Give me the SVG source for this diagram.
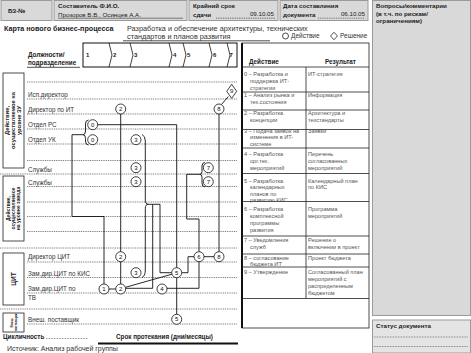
<svg xmlns="http://www.w3.org/2000/svg" width="471" height="353" viewBox="0 0 471 353">
<defs>
<style>
text{font-family:"Liberation Sans",Arial,sans-serif;fill:#222}
.hb{fill:#d9d9d9;stroke:#9a9a9a;stroke-width:1}
.b{font-weight:bold}
.h{font-size:6.2px}
.lbl{font-size:6.3px;fill:#333}
.lane{stroke:#444;stroke-width:0.7;stroke-dasharray:1 0.8;fill:none}
.sep{stroke:#444;stroke-width:0.7;stroke-dasharray:1 0.8;fill:none}
.node circle{fill:#fff;stroke:#111;stroke-width:0.8}
.node polygon{fill:#fff;stroke:#111;stroke-width:0.8}
.n{font-size:6px;text-anchor:middle;fill:#111}
.cn{fill:none;stroke:#111;stroke-width:0.9}
.tt{font-size:5.6px;fill:#555}
.tb{fill:none;stroke:#222;stroke-width:0.8}
.vb{fill:#fff;stroke:#222;stroke-width:0.8}
.vt{font-weight:bold;text-anchor:middle;fill:#222}
</style>
</defs>
<rect width="471" height="353" fill="#fff"/>

<!-- header -->
<g id="header">
<rect class="hb" x="1" y="0.5" width="51" height="20"/>
<text class="h b" x="8" y="13">БЗ-№</text>
<rect class="hb" x="54" y="0.5" width="133" height="20"/>
<text class="h b" x="58" y="7.5">Составитель Ф.И.О.</text>
<text class="h" x="58" y="16.5">Прозоров В.В., Осинцев А.А.</text>
<line x1="58" y1="18.2" x2="183" y2="18.2" stroke="#333" stroke-width="0.6"/>
<rect class="hb" x="189" y="0.5" width="89" height="20"/>
<text class="h b" x="193" y="7.5">Крайний срок</text>
<text class="h b" x="193" y="16.5">сдачи</text>
<line x1="216" y1="18.2" x2="275" y2="18.2" stroke="#333" stroke-width="0.6" stroke-dasharray="1.5 0.8"/>
<text class="h" x="274" y="16" text-anchor="end">09.10.05</text>
<rect class="hb" x="280" y="0.5" width="88" height="20"/>
<text class="h b" x="283" y="7.5">Дата составления</text>
<text class="h b" x="283" y="16.5">документа</text>
<line x1="318" y1="18.2" x2="365" y2="18.2" stroke="#333" stroke-width="0.6" stroke-dasharray="1 0.8"/>
<text class="h" x="365" y="16" text-anchor="end">06.10.05</text>
</g>

<g id="comments">
<rect class="hb" x="372.5" y="0.5" width="98" height="315"/>
<text class="h b" x="376" y="7.5">Вопросы/комментарии</text>
<text class="h b" x="376" y="15.5">(в т.ч. по рискам/</text>
<text class="h b" x="376" y="23">ограничениям)</text>
</g>
<g id="status">
<rect x="372.5" y="320" width="98" height="33" fill="#e4e4e4" stroke="#9a9a9a" stroke-width="1"/>
<text class="h b" x="376" y="328">Статус документа</text>
<line x1="374" y1="337" x2="468" y2="337" stroke="#333" stroke-width="0.6" stroke-dasharray="0.8 0.8"/>
<line x1="374" y1="346.5" x2="468" y2="346.5" stroke="#333" stroke-width="0.6" stroke-dasharray="0.8 0.8"/>
</g>

<!-- title -->
<g id="title">
<text x="4" y="31" class="b" style="font-size:7.2px">Карта нового бизнес-процесса</text>
<text x="127" y="31" style="font-size:7.3px;fill:#333">Разработка и обеспечение архитектуры, технических</text>
<text x="127" y="38.5" style="font-size:7.3px;fill:#333">стандартов и планов развития</text>
<line x1="123" y1="40.8" x2="270" y2="40.8" stroke="#222" stroke-width="0.8"/>
<circle cx="285.5" cy="36" r="3" fill="#fff" stroke="#222" stroke-width="0.8"/>
<text x="291" y="38.3" style="font-size:6.5px;fill:#333">Действие</text>
<polygon points="334,32.3 337.5,36 334,39.7 330.5,36" fill="#fff" stroke="#222" stroke-width="0.8"/>
<text x="340" y="38.3" style="font-size:6.5px;fill:#333">Решение</text>
</g>

<!-- column header and chevrons -->
<g id="phases">
<text x="28" y="57" class="b" style="font-size:6.3px">Должности/</text>
<text x="28" y="64.5" class="b" style="font-size:6.3px">подразделение</text>
<line x1="27" y1="67.3" x2="80" y2="67.3" stroke="#222" stroke-width="0.8"/>
<rect x="83" y="43" width="154" height="24" fill="#fff" stroke="#111" stroke-width="1"/>
<path d="M109 43 L112 55 L109 67 M130 43 L133 55 L130 67 M169 43 L172 55 L169 67 M183 43 L186 55 L183 67 M209 43 L212 55 L209 67 M227 43 L230 55 L227 67" fill="none" stroke="#111" stroke-width="0.8"/>
<g style="font-size:6px" font-weight="bold">
<text x="86" y="57">1</text><text x="113" y="57">2</text><text x="134" y="57">3</text><text x="173" y="57">4</text><text x="187" y="57">5</text><text x="213" y="57">6</text><text x="229.5" y="57">7</text>
</g>
</g>

<!-- lane lines -->
<g id="lanes">
<path class="lane" d="M27 82H237M27 99H237M27 114H237M27 129H237M27 144H237M27 160.5H237M27 186.5H237M27 202H237M27 216.5H237M27 231.5H237M27 262H237M27 277.5H237M27 293H237M27 324H237"/>
<path class="sep" d="M0 174H237M0 248H237M0 309H237"/>
<text class="lbl" x="28" y="97">Исп.директор</text>
<text class="lbl" x="28" y="112">Директор по ИТ</text>
<text class="lbl" x="28" y="127">Отдел РС</text>
<text class="lbl" x="28" y="142">Отдел УК</text>
<text class="lbl" x="28" y="172">Службы</text>
<text class="lbl" x="28" y="184.5">Службы</text>
<text class="lbl" x="28" y="258.5">Директор ЦИТ</text>
<text class="lbl" x="28" y="275.5">Зам.дир.ЦИТ по КИС</text>
<text class="lbl" x="28" y="291.3">Зам.дир.ЦИТ по</text>
<text class="lbl" x="28" y="299.8">ТВ</text>
<text class="lbl" x="28" y="322.3">Внеш. поставщик</text>
</g>

<!-- left group boxes -->
<g id="grp-zu">
<rect class="vb" x="3" y="73" width="21" height="95"/>
<g transform="translate(13.5,120.5) rotate(-90)" style="font-size:5.8px">
<text class="vt" y="-4.3">Действие,</text>
<text class="vt" y="1.7">осуществляемое на</text>
<text class="vt" y="7.7">уровне ЗУ</text>
</g>
</g>
<g id="grp-zavod">
<rect class="vb" x="3" y="176" width="21" height="65"/>
<g transform="translate(13.5,208.5) rotate(-90)" style="font-size:5px">
<text class="vt" y="-3.2">Действие,</text>
<text class="vt" y="1.8">осуществляемое</text>
<text class="vt" y="6.8">на уровне завода</text>
</g>
</g>
<g id="grp-cit">
<rect class="vb" x="3" y="253" width="21" height="52"/>
<text class="vt" transform="translate(15.5,279) rotate(-90)" style="font-size:6.5px">ЦИТ</text>
</g>
<g id="grp-vendor">
<rect class="vb" x="3" y="313" width="21" height="19"/>
<g transform="translate(13.5,322.5) rotate(-90)" style="font-size:3.3px">
<text class="vt" y="-0.5">Внеш.</text>
<text class="vt" y="3.5">поставщик</text>
</g>
</g>

<!-- connectors -->
<g id="connectors" class="cn">
<path d="M97.7 124.7H176.7V267.7"/>
<path d="M176.7 277.7V314.3"/>
<path d="M88.5 120Q85.5 120 85.5 124V131Q85.5 134.7 83 134.7Q85.5 134.7 85.5 138.5V141Q85.5 145 88.5 145"/>
<path d="M83 134.7H72V216.5H104V284"/>
<path d="M109 289H115.7"/>
<path d="M120.7 114V251.7M120.7 261.7V284"/>
<path d="M142 134.5Q145.3 136 145.3 141V200Q145.3 204.3 148.3 204.3Q145.3 204.3 145.3 208.5V270Q145.3 276 142 277.5"/>
<path d="M148.3 204.3H160V272.7H171.7"/>
<path d="M152.7 204.3V288.3H125.7"/>
<path d="M125.5 287.3L171.9 274.2"/>
<path d="M205 162.5Q202 162.5 202 166V171.5Q202 174.3 199.5 174.3Q202 174.3 202 177V183Q202 187 205 187"/>
<path d="M199.5 174.3H186.7V219H199V251.7"/>
<path d="M199 261.7V288.3H167"/>
<path d="M181.7 272.7H188V256.7H194"/>
<path d="M204 256.7H214"/>
<path d="M219 114V251.7"/>
<path d="M221.5 104.5L228.3 96.5"/>
</g>

<!-- nodes -->
<g id="n0a" class="node"><circle cx="92.7" cy="124.7" r="5"/><text class="n" x="92.7" y="126.8">0</text></g>
<g id="n0b" class="node"><circle cx="92.7" cy="139.7" r="5"/><text class="n" x="92.7" y="141.8">0</text></g>
<g id="n2a" class="node"><circle cx="120.7" cy="109" r="5"/><text class="n" x="120.7" y="111.1">2</text></g>
<g id="n8a" class="node"><circle cx="219" cy="109" r="5"/><text class="n" x="219" y="111.1">8</text></g>
<g id="n9" class="node"><polygon points="231.7,84.3 236.7,91.3 231.7,98.3 226.7,91.3"/><text class="n" x="231.7" y="93.4">9</text></g>
<g id="n3a" class="node"><circle cx="136" cy="139.7" r="5"/><text class="n" x="136" y="141.8">3</text></g>
<g id="n3b" class="node"><circle cx="136" cy="167.7" r="5"/><text class="n" x="136" y="169.8">3</text></g>
<g id="n3c" class="node"><circle cx="136" cy="181.7" r="5"/><text class="n" x="136" y="183.8">3</text></g>
<g id="n7a" class="node"><circle cx="208.3" cy="167.7" r="5"/><text class="n" x="208.3" y="169.8">7</text></g>
<g id="n7b" class="node"><circle cx="208.3" cy="181.7" r="5"/><text class="n" x="208.3" y="183.8">7</text></g>
<g id="n2b" class="node"><circle cx="120.7" cy="256.7" r="5"/><text class="n" x="120.7" y="258.8">2</text></g>
<g id="n6" class="node"><circle cx="199" cy="256.7" r="5"/><text class="n" x="199" y="258.8">6</text></g>
<g id="n8b" class="node"><circle cx="219" cy="256.7" r="5"/><text class="n" x="219" y="258.8">8</text></g>
<g id="n3d" class="node"><circle cx="136" cy="272.7" r="5"/><text class="n" x="136" y="274.8">3</text></g>
<g id="n5a" class="node"><circle cx="176.7" cy="272.7" r="5"/><text class="n" x="176.7" y="274.8">5</text></g>
<g id="n1" class="node"><circle cx="104" cy="289" r="5"/><text class="n" x="104" y="291.1">1</text></g>
<g id="n2c" class="node"><circle cx="120.7" cy="289" r="5"/><text class="n" x="120.7" y="291.1">2</text></g>
<g id="n4" class="node"><circle cx="162" cy="289" r="5"/><text class="n" x="162" y="291.1">4</text></g>
<g id="n5b" class="node"><circle cx="176.7" cy="319.3" r="5"/><text class="n" x="176.7" y="321.4">5</text></g>

<!-- legend table -->
<g id="table">
<rect class="tb" x="242" y="43" width="127" height="285"/>
<line x1="242" y1="43" x2="242" y2="328" stroke="#111" stroke-width="2"/>
<path class="tb" d="M242 67H369M242 92H369M242 110H369M242 129.5H369M242 148H369M242 173.5H369M242 201.5H369M242 236H369M242 254H369M242 267H369M242 298.5H369M306 67V298.5"/>
<text x="249" y="64" class="b" style="font-size:6.3px">Действие</text>
<text x="325" y="64" class="b" style="font-size:6.3px">Результат</text>
<g class="tt">
<text class="tt" x="244" y="75.5">0 – Разработка и</text>
<text class="tt" x="250" y="82.5">поддержка ИТ-</text>
<text class="tt" x="250" y="89.5">стратегии</text>
<text class="tt" x="308" y="75.5">ИТ-стратегия</text>
<text class="tt" x="244" y="97">1 – Анализ рынка и</text>
<text class="tt" x="250" y="103.7">тех.состояния</text>
<text class="tt" x="308" y="97">Информация</text>
<text class="tt" x="244" y="115">2 – Разработка</text>
<text class="tt" x="250" y="121.5">концепции</text>
<text class="tt" x="308" y="115">Архитектура и</text>
<text class="tt" x="308" y="121.5">техстандарты</text>
<text class="tt" x="244" y="132.5">3 – Подача заявок на</text>
<text class="tt" x="250" y="139">изменения в ИТ-</text>
<text class="tt" x="250" y="145.5">системе</text>
<text class="tt" x="308" y="132.5">Заявки</text>
<text class="tt" x="244" y="156">4 – Разработка</text>
<text class="tt" x="250" y="163">орг.тех.</text>
<text class="tt" x="250" y="170">мероприятий</text>
<text class="tt" x="308" y="156">Перечень</text>
<text class="tt" x="308" y="163">согласованных</text>
<text class="tt" x="308" y="170">мероприятий</text>
<text class="tt" x="244" y="182.5">5 – Разработка</text>
<text class="tt" x="250" y="189">календарных</text>
<text class="tt" x="250" y="195.5">планов по</text>
<text class="tt" x="250" y="202">развитию КИС</text>
<text class="tt" x="308" y="182.5">Календарный план</text>
<text class="tt" x="308" y="189">по КИС</text>
<text class="tt" x="244" y="211">6 – Разработка</text>
<text class="tt" x="250" y="217.7">комплексной</text>
<text class="tt" x="250" y="224.5">программы</text>
<text class="tt" x="250" y="231.5">развития</text>
<text class="tt" x="308" y="211">Программа</text>
<text class="tt" x="308" y="217.7">мероприятий</text>
<text class="tt" x="244" y="242">7 – Уведомления</text>
<text class="tt" x="250" y="248.7">служб</text>
<text class="tt" x="308" y="242">Решение о</text>
<text class="tt" x="308" y="248.7">включении в проект</text>
<text class="tt" x="244" y="259.5">8 – согласование</text>
<text class="tt" x="250" y="265.5">бюджета ИТ</text>
<text class="tt" x="308" y="259.5">Проект бюджета</text>
<text class="tt" x="244" y="274">9 – Утверждение</text>
<text class="tt" x="308" y="274">Согласованный план</text>
<text class="tt" x="308" y="281">мероприятий с</text>
<text class="tt" x="308" y="288">распределенным</text>
<text class="tt" x="308" y="295">бюджетом</text>
</g>
</g>

<!-- footer -->
<g id="footer">
<text x="3" y="338.5" class="b" style="font-size:6.3px">Цикличность</text>
<line x1="46" y1="338.5" x2="88" y2="338.5" stroke="#333" stroke-width="0.6" stroke-dasharray="0.8 0.8"/>
<text x="116" y="338.5" class="b" style="font-size:6.3px">Срок протекания (дни/месяцы)</text>
<line x1="98" y1="343.5" x2="238" y2="343.5" stroke="#111" stroke-width="2"/>
<text x="7" y="350.8" style="font-size:7px;fill:#333">Источник: Анализ рабочей группы</text>
</g>
</svg>
